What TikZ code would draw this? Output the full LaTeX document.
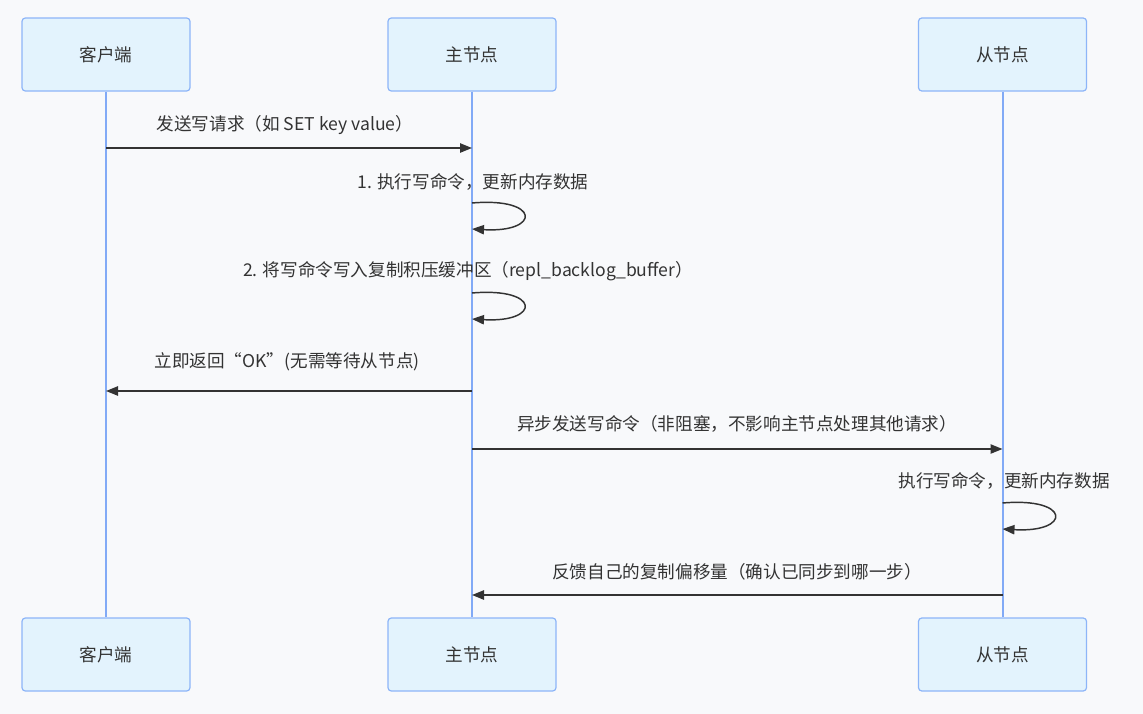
\documentclass[tikz,border=0pt]{standalone}
\usepackage{fontspec}
\setmainfont{Noto Sans CJK SC}
\usetikzlibrary{arrows.meta}
\definecolor{bg}{HTML}{F8F9FB}
\definecolor{boxfill}{HTML}{E3F3FD}
\definecolor{boxdraw}{HTML}{8DB5F8}
\definecolor{life}{HTML}{82AAF6}
\definecolor{ink}{HTML}{333333}
\begin{document}
\begin{tikzpicture}[x=0.75pt,y=-0.75pt,
  font=\fontsize{13.2}{16}\selectfont,
  actor/.style={draw=boxdraw, fill=boxfill, rounded corners=2.5pt, line width=0.9pt,
    minimum width=126pt, minimum height=54.75pt, text=ink, inner sep=0pt},
  lifeline/.style={draw=life, line width=1.5pt},
  msg/.style={draw=ink, line width=1.1pt, -{Triangle[length=9pt,width=7pt]}},
  lbl/.style={text=ink, inner sep=0pt}]
\fill[bg] (0,0) rectangle (1143,714);
\useasboundingbox (0,0) rectangle (1143,714);

% actors
\node[actor] (cT) at (106,54.5) {客户端};
\node[actor] (mT) at (472,54.5) {主节点};
\node[actor] (sT) at (1002.5,54.5) {从节点};
\node[actor] (cB) at (106,654.5) {客户端};
\node[actor] (mB) at (472,654.5) {主节点};
\node[actor] (sB) at (1002.5,654.5) {从节点};

% lifelines
\draw[lifeline] (cT) -- (cB);
\draw[lifeline] (mT) -- (mB);
\draw[lifeline] (sT) -- (sB);

% message endpoints
\coordinate (c1) at (106,148);   \coordinate (m1) at (472,148);
\coordinate (m2a) at (472,203);  \coordinate (m2b) at (472,229);
\coordinate (m3a) at (472,293);  \coordinate (m3b) at (472,319);
\coordinate (m4) at (472,391);   \coordinate (c4) at (106,391);
\coordinate (m5) at (472,449);   \coordinate (s5) at (1002.5,449);
\coordinate (s6a) at (1002.5,503); \coordinate (s6b) at (1002.5,529);
\coordinate (s7) at (1002.5,595); \coordinate (m7) at (472,595);

% messages
\draw[msg] (c1) -- (m1);
\node[lbl] (l1) at (285,125) {发送写请求（如 SET key value）};

\draw[msg] (m2a) .. controls (541,197) and (541,233) .. (m2b);
\node[lbl] (l2) at (473,182) {1. 执行写命令，更新内存数据};

\draw[msg] (m3a) .. controls (541,287) and (541,323) .. (m3b);
\node[lbl] (l3) at (468,271) {2. 将写命令写入复制积压缓冲区（repl\_backlog\_buffer）};

\draw[msg] (m4) -- (c4);
\node[lbl] (l4) at (287,362) {立即返回“OK”(无需等待从节点)};

\draw[msg] (m5) -- (s5);
\node[lbl] (l5) at (737,424) {异步发送写命令（非阻塞，不影响主节点处理其他请求）};

\draw[msg] (s6a) .. controls (1071.5,497) and (1071.5,533) .. (s6b);
\node[lbl] (l6) at (1004,481) {执行写命令，更新内存数据};

\draw[msg] (s7) -- (m7);
\node[lbl] (l7) at (737,572) {反馈自己的复制偏移量（确认已同步到哪一步）};
\end{tikzpicture}
\end{document}
